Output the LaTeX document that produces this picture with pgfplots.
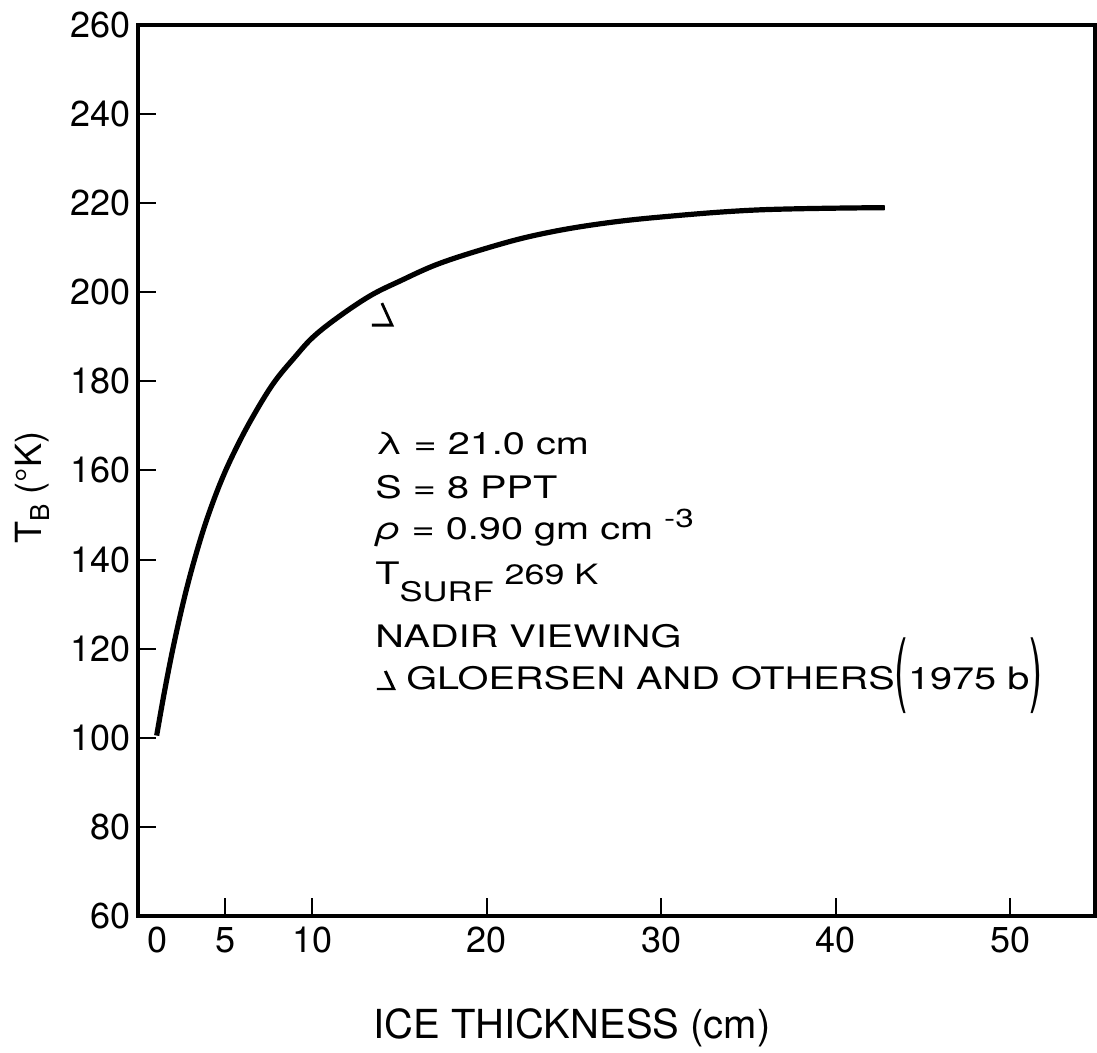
\documentclass[border=0pt]{standalone}
\usepackage{fontspec}
\setmainfont{TeX Gyre Heros}
\usepackage{graphicx}
\usepackage{pgfplots}
\pgfplotsset{compat=1.18}

\pgfdeclareplotmark{gloer}{%
  \pgfpathmoveto{\pgfqpoint{0pt}{5.5pt}}%
  \pgfpathlineto{\pgfqpoint{5pt}{-5.5pt}}%
  \pgfpathlineto{\pgfqpoint{-5pt}{-5.5pt}}%
  \pgfusepathqstroke}

\newcommand{\gmark}{\tikz[baseline=0pt,line width=1.2pt]{\draw (3.3pt,9pt) -- (6.6pt,0pt) -- (0pt,0pt);}}
\newcommand{\bigparen}[1]{\raisebox{-3.5pt}{\scalebox{1}[2.6]{#1}}}
\newcommand{\ann}[1]{\scalebox{1.28}[1]{#1}}

\begin{document}
\begin{tikzpicture}
\begin{axis}[
  scale only axis, width=478.5pt, height=445.5pt,
  xmin=0, xmax=54.85, ymin=60, ymax=260,
  xtick={0,5,10,20,30,40,50},
  xticklabels={\hspace*{20pt}0,5,10,20,30,40,50},
  ytick={60,80,...,260},
  tick pos=left, tick align=inside,
  major tick length=9pt,
  every tick/.style={black, line width=1pt},
  axis line style={line width=1.7pt},
  tick label style={font=\fontsize{18}{20}\selectfont},
  xticklabel style={yshift=-2pt},
  /pgf/number format/assume math mode=true,
  clip=false,
]
\addplot[black, line width=2.6pt, smooth, tension=0.6] coordinates {
(1.07,100.5) (1.5,110) (2.0,120) (2.6,130.5) (3.2,139.5) (3.9,148.5)
(4.7,157.0) (5.5,164.0) (6.5,171.5) (7.75,179.5) (9.0,185.5) (10.05,190)
(11.5,194.5) (13.3,199.2) (15.0,202.5) (17.3,206.5) (20.5,210.5) (23.0,213.0)
(26.0,215.1) (29.7,216.8) (35.6,218.5) (42.8,219.0)
};
\addplot[black, only marks, mark=gloer, mark options={line width=1.4pt}] coordinates {(13.98,195.1)};

\begin{scope}[every node/.style={anchor=base west, inner sep=0pt, font=\fontsize{15.5}{18}\selectfont}]
\node at (axis cs:13.58,163.7) {\ann{λ = 21.0 cm}};
\node at (axis cs:13.58,153.8) {\ann{S = 8 PPT}};
\node at (axis cs:13.58,144.4) {\ann{\textit{ρ} = 0.90 gm cm \raisebox{6pt}{\fontsize{13}{15}\selectfont -3}}};
\node at (axis cs:13.58,134.3) {\ann{T\raisebox{-8.5pt}{\fontsize{13.5}{15}\selectfont SURF} {\fontsize{14}{15}\selectfont 269 K}}};
\node at (axis cs:13.58,120.2) {\ann{NADIR VIEWING}};
\node at (axis cs:13.58,110.95) {\ann{\gmark\ GLOERSEN AND OTHERS\bigparen{(}1975 b\bigparen{)}}};
\end{scope}

\node[anchor=base, font=\fontsize{20}{24}\selectfont] at (axis cs:24.87,32.6) {ICE THICKNESS (cm)};
\node[rotate=90, font=\fontsize{18}{20}\selectfont] at (axis cs:-6.07,156.1) {T\raisebox{-4pt}{\fontsize{13}{15}\selectfont B} (°K)};
\end{axis}
\pgfresetboundingbox
\useasboundingbox (current axis.south west) ++(-69pt,-68.5pt) rectangle ++(548.5pt,526.5pt);
\end{tikzpicture}
\end{document}
